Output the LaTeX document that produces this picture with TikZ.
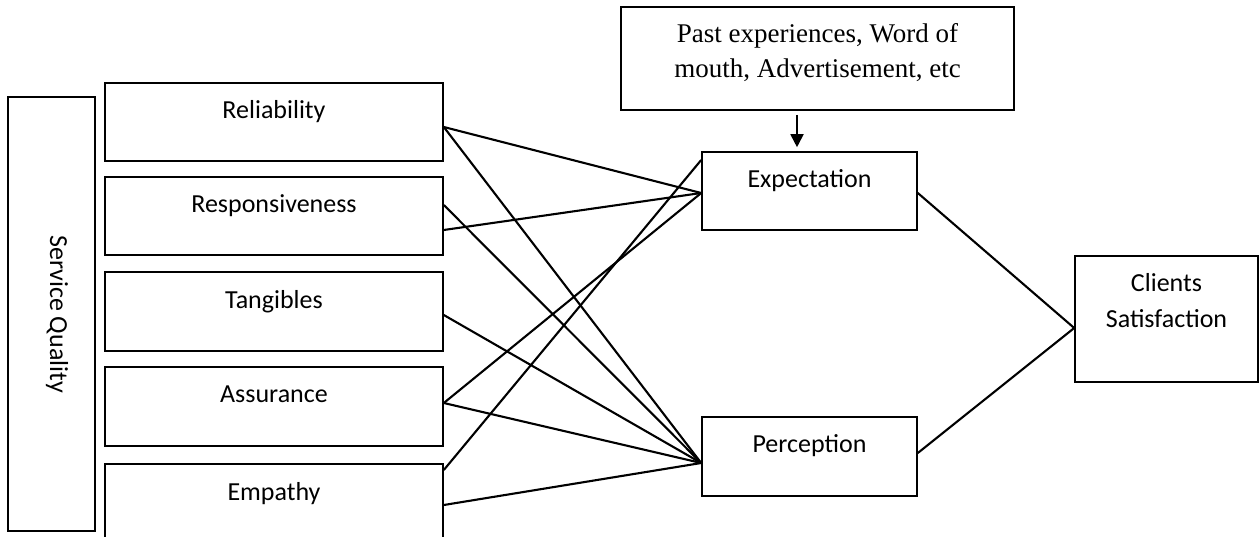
\documentclass[tikz,border=0pt]{standalone}
\usepackage{fontspec}
\setmainfont{Liberation Serif}
\newfontfamily\calib{Carlito}
\usetikzlibrary{arrows.meta}
\begin{document}
\begin{tikzpicture}[x=1pt,y=-1pt,
  box/.style={draw, line width=1.6pt, minimum width=338pt, minimum height=78pt, inner sep=0pt},
  lab/.style={font=\calib\fontsize{26}{31}\selectfont, anchor=base},
  slab/.style={font=\fontsize{27}{32}\selectfont, anchor=base},
  conn/.style={line width=2.1pt}]
\useasboundingbox (0,0) rectangle (1259,536);
\clip (0,0) rectangle (1259,536);
% service quality
\node[draw, line width=1.6pt, rotate=-90, minimum width=434pt, minimum height=87pt, inner sep=0pt,
      font=\calib\fontsize{26}{31}\selectfont, text height=8pt, text depth=5pt] (sq) at (51.5,314) {Service Quality};
% dimensions
\node[box, label={[lab,yshift=-36pt]north:Reliability}] (rel) at (274,122) {};
\node[box, label={[lab,yshift=-36pt]north:Responsiveness}] (res) at (274,216) {};
\node[box, minimum height=79pt, label={[lab,yshift=-37pt]north:Tangibles}] (tan) at (274,311.5) {};
\node[box, minimum height=79pt, label={[lab,yshift=-36pt]north:Assurance}] (asr) at (274,406.5) {};
\node[box, minimum height=79pt, label={[lab,yshift=-37pt]north:Empathy}] (emp) at (274,503.5) {};
% antecedents
\node[box, minimum width=393pt, minimum height=103pt,
      label={[slab,yshift=-36pt]north:Past experiences, Word of},
      label={[slab,yshift=-71pt]north:mouth, Advertisement, etc}] (past) at (817.5,58.5) {};
\node[box, minimum width=215pt, label={[lab,yshift=-36pt]north:Expectation}] (exp) at (809.5,191) {};
\node[box, minimum width=215pt, minimum height=79pt, label={[lab,yshift=-36pt]north:Perception}] (per) at (809.5,456.5) {};
\node[box, minimum width=183pt, minimum height=126pt,
      label={[lab,yshift=-36pt]north:Clients},
      label={[lab,yshift=-72pt]north:Satisfaction}] (cs) at (1166.5,319) {};
% connectors
\draw[conn] ([yshift=-5pt]rel.east) -- ([yshift=-2pt]exp.west);
\draw[conn] ([yshift=-5pt]rel.east) -- ([yshift=-6.5pt]per.west);
\draw[conn] ([yshift=11pt]res.east) -- ([yshift=-6.5pt]per.west);
\draw[conn] ([yshift=-14pt]res.east) -- ([yshift=-2pt]exp.west);
\draw[conn] ([yshift=-3.5pt]tan.east) -- ([yshift=-6.5pt]per.west);
\draw[conn] ([yshift=3.5pt]asr.east) -- ([yshift=-2pt]exp.west);
\draw[conn] ([yshift=3.5pt]asr.east) -- ([yshift=-6.5pt]per.west);
\draw[conn] ([yshift=33.5pt]emp.east) -- ([yshift=31pt]exp.west);
\draw[conn] ([yshift=-1.5pt]emp.east) -- ([yshift=-6.5pt]per.west);
\draw[conn] ([yshift=-2pt]exp.east) -- ([yshift=-9pt]cs.west);
\draw[conn] ([yshift=3.5pt]per.east) -- ([yshift=-9pt]cs.west);
\draw[line width=1.8pt, -{Triangle[length=13pt,width=13pt]}] ([xshift=-20.5pt,yshift=-4pt]past.south) -- ([xshift=-12.5pt,yshift=4pt]exp.north);
\end{tikzpicture}
\end{document}
